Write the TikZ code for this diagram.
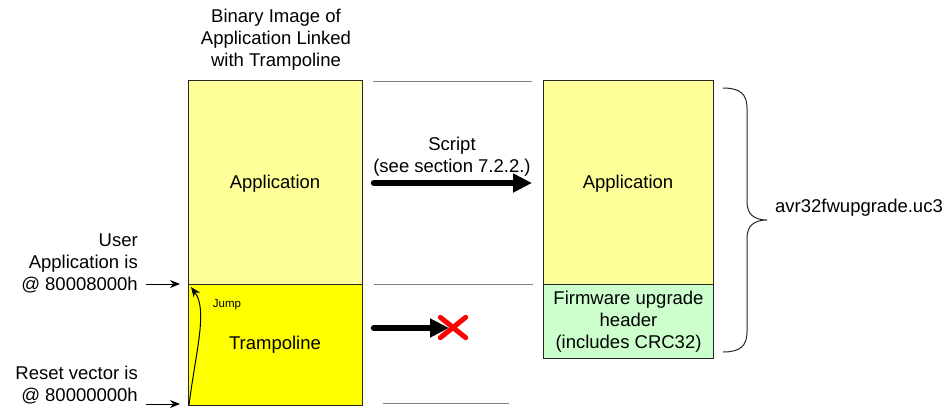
\documentclass[tikz,border=0pt]{standalone}
\usepackage{fontspec}
\setmainfont{Liberation Sans}
\usetikzlibrary{arrows.meta,calc}
\definecolor{appyellow}{HTML}{FFFF99}
\definecolor{trampyellow}{HTML}{FFFF00}
\definecolor{hdrgreen}{HTML}{CCFFCC}
\definecolor{divgray}{HTML}{808080}
\begin{document}
\begin{tikzpicture}[x=1pt,y=-1pt,
  block/.style={draw=black!85,line width=1pt,inner sep=0pt,anchor=north west},
  lbl/.style={font=\fontsize{18.5}{22}\selectfont,align=center,inner sep=0pt},
  sidelbl/.style={font=\fontsize{18.5}{22}\selectfont,align=right,inner sep=0pt,anchor=east},
  divider/.style={draw=divgray,line width=0.7pt},
  bigarrow/.style={line width=6.5pt,line cap=round,-{Triangle[length=19pt,width=18pt]}},
  ptr/.style={line width=1pt,-{Stealth[length=10pt,width=8pt]}}]
\useasboundingbox (0,0) rectangle (948,408);

% left column: application linked with trampoline
\node[block,fill=appyellow,minimum width=174pt,minimum height=204pt] (app1) at (188,80) {};
\node[block,fill=trampyellow,minimum width=174pt,minimum height=121pt] (tramp) at (188,284) {};
\node[lbl] (app1txt) at (275,184) {Application};
\node[lbl] (tramptxt) at (275,345) {Trampoline};
\node[lbl] (title) at (276,40) {Binary Image of\\Application Linked\\with Trampoline};

% right column: upgrade file
\node[block,fill=appyellow,minimum width=170pt,minimum height=204pt] (app2) at (543,80) {};
\node[block,fill=hdrgreen,minimum width=170pt,minimum height=74pt] (hdr) at (543,284) {};
\node[lbl] (app2txt) at (628,184) {Application};
\node[lbl] (hdrtxt) at (hdr.center) {Firmware upgrade\\header\\(includes CRC32)};

% divider lines between the columns
\coordinate (d1a) at (373,81);  \coordinate (d1b) at (532,81);
\coordinate (d2a) at (374,284); \coordinate (d2b) at (533,284);
\coordinate (d3a) at (383,403); \coordinate (d3b) at (509,403);
\draw[divider] (d1a) -- (d1b);
\draw[divider] (d2a) -- (d2b);
\draw[divider] (d3a) -- (d3b);

% script conversion arrow
\coordinate (sa) at (374,183); \coordinate (sb) at (532,183);
\draw[bigarrow] (sa) -- (sb);
\node[lbl] (script) at (452,157) {Script\\(see section 7.2.2.)};

% trampoline is not carried over
\coordinate (ta) at (374,328); \coordinate (tb) at (449,328);
\draw[bigarrow] (ta) -- (tb);
\node[inner sep=0pt,minimum width=30pt,minimum height=25pt] (cross) at (453,327.5) {};
\draw[red,line width=5pt,line cap=round] ($(cross.north west)+(2.5,2.5)$) -- ($(cross.south east)+(-2.5,-2.5)$);
\draw[red,line width=5pt,line cap=round] ($(cross.north east)+(-2.5,2.5)$) -- ($(cross.south west)+(2.5,-2.5)$);

% brace around the upgrade file
\coordinate (bt) at (723,88);
\coordinate (bm) at (767,220);
\coordinate (bb) at (723,352);
\draw[line width=1pt,black!85] (bt) .. controls (740,88) and (747,94) .. (747,108)
  -- (747,202) .. controls (747,214) and (754,220) .. (bm)
  .. controls (754,220) and (747,226) .. (747,238)
  -- (747,332) .. controls (747,346) and (740,352) .. (bb);
\node[font=\fontsize{18.5}{22}\selectfont,anchor=west,inner sep=0pt] (fname) at (775,208) {avr32fwupgrade.uc3};

% address labels on the left
\node[sidelbl] (userlbl) at (138,263) {User\\Application is\\@ 80008000h};
\node[sidelbl] (resetlbl) at (138,385) {Reset vector is\\@ 80000000h};
\coordinate (ua) at (146,284); \coordinate (ub) at (180,284);
\coordinate (ra) at (146,404); \coordinate (rb) at (180,404);
\draw[ptr] (ua) -- (ub);
\draw[ptr] (ra) -- (rb);

% jump from the reset vector to the application
\coordinate (ja) at (189,405);
\coordinate (jb) at (191,287);
\draw[ptr] (ja) .. controls (196,350) and (208,310) .. (jb);
\node[font=\fontsize{11.5}{14}\selectfont,inner sep=0pt] (jump) at (227,305) {Jump};
\end{tikzpicture}
\end{document}
